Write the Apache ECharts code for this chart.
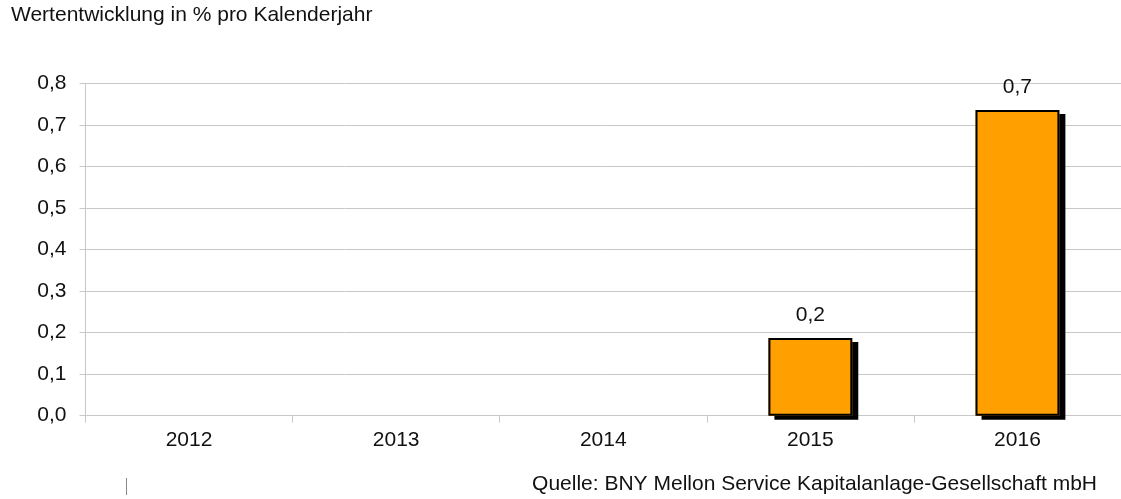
<!DOCTYPE html>
<html lang="de">
<head>
    <meta charset="UTF-8">
    <title>Wertentwicklung</title>
    <script src="https://cdn.jsdelivr.net/npm/echarts@6/dist/echarts.min.js"></script>
    <style>
        html, body { margin: 0; padding: 0; background: #fff; }
        #main { width: 1121px; height: 499px; }
    </style>
</head>
<body>
<div id="main"></div>
<script>
    // Daten
    var jahre = ['2012', '2013', '2014', '2015', '2016'];
    var werte = [null, null, null, 0.187, 0.736];
    var yTicks = [0, 0.1, 0.2, 0.3, 0.4, 0.5, 0.6, 0.7, 0.8];

    var schrift = 'Arial, "Liberation Sans", sans-serif';
    var grau = '#c8c8c8';

    // Zahl mit Komma
    function komma(v) {
        return Number(v).toFixed(1).replace('.', ',');
    }

    var myChart = echarts.init(document.getElementById('main'));

    var option = {
        animation: false,
        textStyle: { fontFamily: schrift },
        title: {
            text: 'Wertentwicklung in % pro Kalenderjahr',
            left: 11,
            top: 5,
            padding: 0,
            textStyle: { fontFamily: schrift, fontSize: 21, fontWeight: 'normal', color: '#111' }
        },
        grid: { left: 85.5, right: 0, top: 83.5, bottom: 83.3, containLabel: false },
        xAxis: {
            type: 'category',
            data: jahre,
            axisLine: { lineStyle: { color: grau, width: 1 } },
            axisTick: { show: true, length: 7, lineStyle: { color: grau } },
            axisLabel: { margin: 14, fontSize: 21, color: '#111', fontFamily: schrift }
        },
        yAxis: {
            type: 'value',
            min: yTicks[0],
            max: yTicks[yTicks.length - 1],
            interval: 0.1,
            axisLine: { show: true, lineStyle: { color: grau, width: 1 } },
            axisTick: { show: true, length: 6, lineStyle: { color: grau } },
            splitLine: { lineStyle: { color: grau, width: 1 } },
            axisLabel: {
                margin: 19,
                fontSize: 21,
                color: '#111',
                fontFamily: schrift,
                formatter: komma
            }
        },
        series: [
            // Füllung mit Schatten
            {
                type: 'bar',
                data: werte,
                barWidth: '40.5%',
                itemStyle: {
                    color: '#ffa000',
                    shadowColor: '#000',
                    shadowBlur: 0,
                    shadowOffsetX: 6,
                    shadowOffsetY: 4
                }
            },
            // Rahmen + Beschriftung
            {
                type: 'bar',
                data: werte,
                barWidth: '40.5%',
                barGap: '-100%',
                z: 3,
                itemStyle: {
                    color: 'rgba(0,0,0,0)',
                    borderColor: '#000',
                    borderWidth: 2
                },
                label: {
                    show: true,
                    position: 'top',
                    distance: 12,
                    fontSize: 21,
                    color: '#111',
                    fontFamily: schrift,
                    formatter: function (p) { return komma(p.value); }
                }
            }
        ],
        graphic: [
            {
                type: 'text',
                right: 24,
                top: 474,
                style: {
                    text: 'Quelle: BNY Mellon Service Kapitalanlage-Gesellschaft mbH',
                    font: '21px ' + schrift,
                    fill: '#111'
                }
            },
            {
                type: 'line',
                shape: { x1: 126.5, y1: 478, x2: 126.5, y2: 495 },
                style: { stroke: '#888', lineWidth: 1 }
            }
        ]
    };

    myChart.setOption(option);
</script>
</body>
</html>
